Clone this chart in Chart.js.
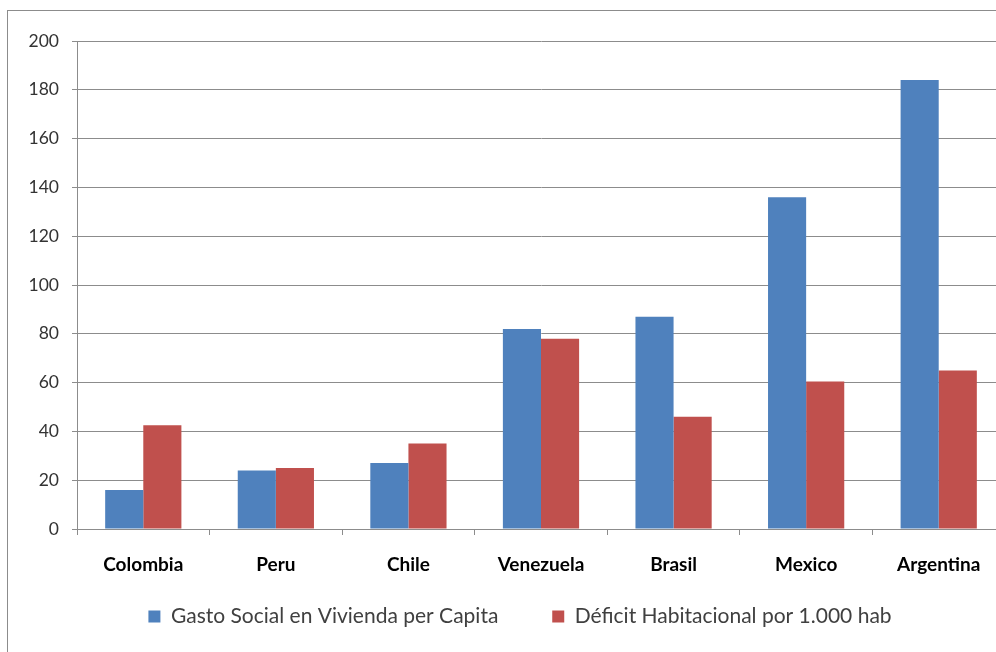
<!DOCTYPE html>
<html>
<head>
<meta charset="utf-8">
<script src="https://cdn.jsdelivr.net/npm/chart.js@4"></script>
<style>
  html, body { margin: 0; padding: 0; background: #fff; overflow: hidden; }
  #frame { position: absolute; left: 7px; top: 10px; width: 1200px; height: 700px; border: 1px solid #8c8c8c; }
  #wrap { position: absolute; left: 0; top: 0; width: 1040px; height: 652px; }
</style>
</head>
<body>
<div id="frame"></div>
<div id="wrap"><canvas id="myChart"></canvas></div>
<script>
const categories = ['Colombia', 'Peru', 'Chile', 'Venezuela', 'Brasil', 'Mexico', 'Argentina'];
const gastoSocial = [16, 24, 27, 82, 87, 136, 184];
const deficit = [42.5, 25, 35, 78, 46, 60.5, 65];
const yTicks = [0, 20, 40, 60, 80, 100, 120, 140, 160, 180, 200];

const font = "Lato, 'Open Sans', sans-serif";

const config = {
    type: 'bar',
    data: {
        labels: categories,
        datasets: [{
            label: 'Gasto Social en Vivienda per Capita',
            data: gastoSocial,
            backgroundColor: '#4F81BD',
            yAxisID: 'y'
        }, {
            label: 'Déficit Habitacional por 1.000 hab',
            data: deficit,
            backgroundColor: '#C0504D',
            yAxisID: 'y'
        }]
    },
    options: {
        responsive: true,
        maintainAspectRatio: false,
        animation: false,
        categoryPercentage: 0.575,
        barPercentage: 1.0,
        layout: {padding: {top: 41, left: 0, right: 0, bottom: 15}},
        plugins: {
            tooltip: {enabled: false},
            legend: {
                position: 'bottom',
                labels: {
                    font: {family: font, size: 21},
                    color: '#404040',
                    boxWidth: 12,
                    boxHeight: 12,
                    padding: 27,
                    // wider gap between the two entries than the vertical padding
                    generateLabels: chart => Chart.defaults.plugins.legend.labels.generateLabels(chart)
                        .map((l, i) => i === 0 ? {...l, text: l.text + '     '} : l)
                }
            }
        },
        scales: {
            x: {
                grid: {drawOnChartArea: false, drawTicks: true, tickLength: 6, color: '#8c8c8c'},
                border: {color: '#8c8c8c'},
                ticks: {font: {family: font, size: 19, weight: 'bold'}, color: '#000', padding: 18},
                afterFit: s => { s.height = 50; }
            },
            y: {
                min: 0,
                max: 200,
                afterBuildTicks: s => { s.ticks = yTicks.map(v => ({value: v})); },
                grid: {color: '#8c8c8c', tickLength: 5},
                border: {color: '#8c8c8c'},
                ticks: {font: {family: font, size: 17.5}, color: '#333', padding: 13},
                afterFit: s => { s.width = 77; }
            },
            y2: {
                position: 'right',
                display: true,
                grid: {display: false},
                border: {display: false},
                ticks: {display: false},
                afterFit: s => { s.width = 35; }
            }
        }
    }
};

const myChart = new Chart(document.getElementById('myChart'), config);
</script>
</body>
</html>
